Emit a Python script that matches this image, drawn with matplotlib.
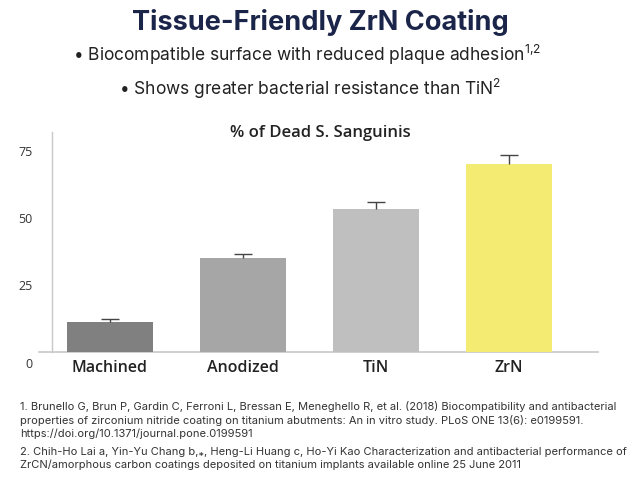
import matplotlib
matplotlib.use("Agg")
import matplotlib.pyplot as plt
from matplotlib.transforms import ScaledTranslation

plt.rcParams['mathtext.fontset'] = 'custom'
plt.rcParams['mathtext.rm'] = 'Inter'

# data
categories = ["Machined", "Anodized", "TiN", "ZrN"]
dead_pct = [11.1, 35.0, 53.6, 70.4]
dead_err = [1.3, 1.5, 2.4, 3.1]
bar_colors = ["#808080", "#a6a6a6", "#bfbfbf", "#f3eb72"]
yticks = [0, 25, 50, 75]

title = "Tissue-Friendly ZrN Coating"
bullet1 = "• Biocompatible surface with reduced plaque adhesion$^{\\mathrm{1{,}2}}$"
bullet2 = "• Shows greater bacterial resistance than TiN$^{\\mathrm{2}}$"
chart_title = "% of Dead S. Sanguinis"
refs = [
    "1. Brunello G, Brun P, Gardin C, Ferroni L, Bressan E, Meneghello R, et al. (2018) Biocompatibility and antibacterial\n"
    "properties of zirconium nitride coating on titanium abutments: An in vitro study. PLoS ONE 13(6): e0199591.\n"
    "https://doi.org/10.1371/journal.pone.0199591",
    "2. Chih-Ho Lai a, Yin-Yu Chang b,⁎, Heng-Li Huang c, Ho-Yi Kao Characterization and antibacterial performance of\n"
    "ZrCN/amorphous carbon coatings deposited on titanium implants available online 25 June 2011",
]

fig = plt.figure(figsize=(6.4, 4.8), dpi=100)
fig.patch.set_facecolor("white")

# header text
fig.text(0.5, 1 - 22 / 480, title, ha="center", va="center", fontsize=19.5,
         fontweight="bold", color="#1b2549", family="Inter")
fig.text(0.48, 1 - 55 / 480, bullet1, ha="center", va="center", fontsize=12.5,
         color="#222222", family="Inter")
fig.text(0.485, 1 - 89 / 480, bullet2, ha="center", va="center", fontsize=12.5,
         color="#222222", family="Inter")

# chart
ax = fig.add_axes([52 / 640, 128 / 480, 546 / 640, 220 / 480])
x = list(range(len(categories)))
ax.bar(x, dead_pct, width=0.65, color=bar_colors, zorder=2)
_, caps, _ = ax.errorbar(x, dead_pct, yerr=[[0] * len(dead_err), dead_err], fmt="none",
                         ecolor="#444444", elinewidth=1, capsize=6.5, capthick=1, zorder=3)
caps[0].set_visible(False)  # only upper cap

ax.set_xlim(-0.436, 3.67)
ax.set_ylim(0, 82.2)
for s in ["top", "right", "bottom"]:
    ax.spines[s].set_visible(False)
ax.spines["left"].set_color("#c8c8c8")
ax.spines["left"].set_linewidth(1)
ax.axhline(0, xmin=-0.024, xmax=1, color="#c8c8c8", linewidth=1.2, clip_on=False, zorder=1)

ax.set_yticks(yticks)
ax.set_yticklabels([str(t) for t in yticks], fontsize=9, color="#333333", family="Open Sans")
ax.tick_params(axis="y", length=0, pad=14)
ax.set_xticks(x)
ax.set_xticklabels(categories, fontsize=11.5, fontweight="semibold", color="#222222",
                   family="Open Sans")
ax.tick_params(axis="x", length=0, pad=6)

zero_lbl = ax.get_yticklabels()[0]
zero_lbl.set_transform(zero_lbl.get_transform() + ScaledTranslation(0, -11 / 100, fig.dpi_scale_trans))

ax.text(0.5, 1 - 133 / 480, chart_title, transform=fig.transFigure, ha="center",
        va="center", fontsize=12, fontweight="semibold", color="#222222", family="Open Sans")

# references
fig.text(20 / 640, 1 - 401 / 480, refs[0], ha="left", va="top", fontsize=8,
         color="#333333", family="Inter", linespacing=1.3)
fig.text(20 / 640, 1 - 447 / 480, refs[1], ha="left", va="top", fontsize=8,
         color="#333333", family="Inter", linespacing=1.3)

fig.savefig("out.png", dpi=100)
